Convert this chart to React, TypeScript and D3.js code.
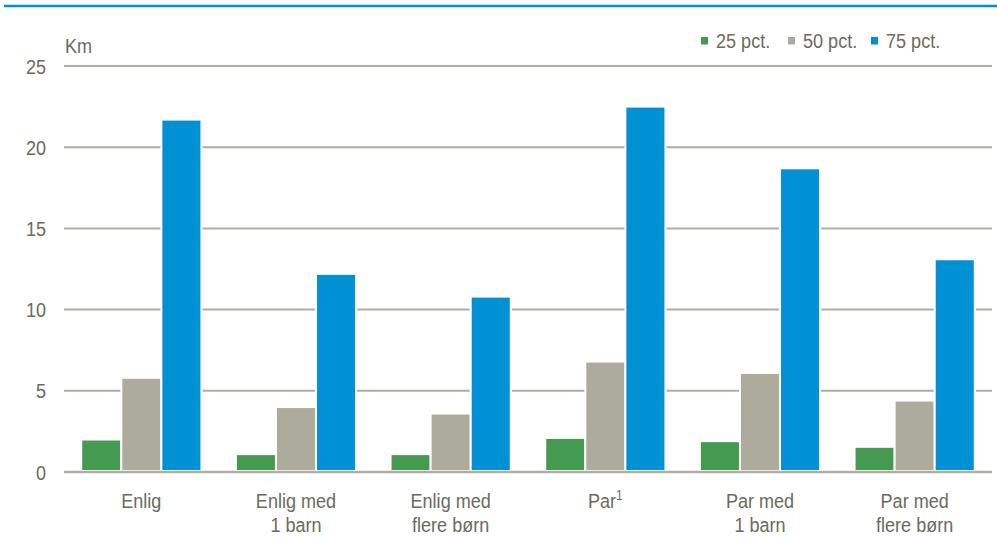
import React from "react";
import * as d3 from "d3";

const categories: string[][] = [
  ["Enlig"],
  ["Enlig med", "1 barn"],
  ["Enlig med", "flere børn"],
  ["Par"],
  ["Par med", "1 barn"],
  ["Par med", "flere børn"],
];
const seriesNames = ["25 pct.", "50 pct.", "75 pct."];
const p25 = [2.0, 1.1, 1.1, 2.1, 1.9, 1.55];
const p50 = [5.8, 4.0, 3.6, 6.8, 6.1, 4.4];
const p75 = [21.7, 12.2, 10.8, 22.5, 18.7, 13.1];
const yTicks = [0, 5, 10, 15, 20, 25];

const colors = ["#459A52", "#ADAB9C", "#0091D5"];
const textColor = "#6B6B5C";
const gridColor = "#B0AEA0";
const FONT = "'Liberation Sans', Arial, sans-serif";
const SX = 0.86;

function NText(props: {
  x: number;
  y: number;
  anchor?: "start" | "middle" | "end";
  size?: number;
  children: React.ReactNode;
}) {
  return (
    <text
      transform={`translate(${props.x},${props.y}) scale(${SX},1)`}
      textAnchor={props.anchor || "start"}
      fontSize={props.size || 21}
      fill={textColor}
    >
      {props.children}
    </text>
  );
}

export default function App() {
  const W = 997;
  const H = 538;
  const left = 64;
  const right = 992;
  const series = [p25, p50, p75];

  const x0 = d3
    .scaleBand<number>()
    .domain(d3.range(categories.length))
    .range([left, right])
    .paddingInner(0)
    .paddingOuter(0);
  const x1 = d3
    .scaleBand<number>()
    .domain([0, 1, 2])
    .range([0, x0.bandwidth()])
    .paddingOuter(0.43)
    .paddingInner(0);
  const y = d3.scaleLinear().domain([0, 25]).range([472, 66]);

  const legendX = [701, 788, 871];

  return (
    <svg
      width={W}
      height={H}
      style={{ position: "absolute", left: 0, top: 0, background: "#fff" }}
      fontFamily={FONT}
    >
      <line x1={4} x2={W} y1={6} y2={6} stroke="#0091D5" strokeWidth={2.5} />
      {yTicks.map((t) => (
        <g key={t}>
          {t > 0 && (
            <line x1={left} x2={right} y1={y(t)} y2={y(t)} stroke={gridColor} strokeWidth={2} />
          )}
          <NText x={46} y={y(t) + 7.5} anchor="end">
            {t}
          </NText>
        </g>
      ))}
      <NText x={65} y={53}>
        Km
      </NText>
      {categories.map((c, i) => (
        <g key={i} transform={`translate(${x0(i)},0)`}>
          {series.map((s, j) => (
            <rect
              key={j}
              x={(x1(j) as number)}
              y={y(s[i])}
              width={x1.bandwidth()}
              height={y(0) - y(s[i]) - 1}
              fill={colors[j]}
              stroke="#fff"
              strokeWidth={2}
            />
          ))}
        </g>
      ))}
      <line x1={left} x2={right} y1={y(0)} y2={y(0)} stroke={gridColor} strokeWidth={2.5} />
      {categories.map((c, i) => {
        const cx = (x0(i) as number) + x0.bandwidth() / 2;
        return (
          <g key={i}>
            {c.map((line, k) => (
              <NText key={k} x={cx} y={508 + k * 24} anchor="middle">
                {line}
                {i === 3 && k === 0 ? (
                  <tspan fontSize={14} dy={-8}>
                    1
                  </tspan>
                ) : null}
              </NText>
            ))}
          </g>
        );
      })}
      {seriesNames.map((n, j) => (
        <g key={n}>
          <rect x={legendX[j]} y={37} width={7} height={7.5} fill={colors[j]} />
          <NText x={legendX[j] + 15} y={48}>
            {n}
          </NText>
        </g>
      ))}
    </svg>
  );
}
